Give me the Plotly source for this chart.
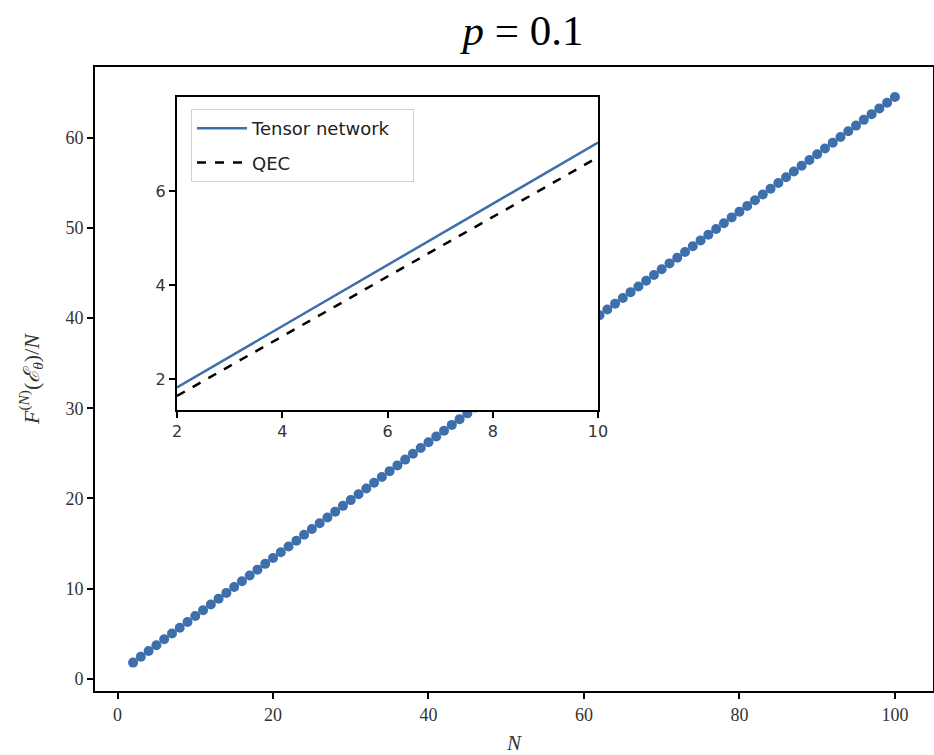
import plotly.graph_objects as go

# Main series: N and F^(N)(E_theta)/N (tensor network)
N_main = list(range(2, 101))
F_main = [1.80, 2.45, 3.09, 3.73, 4.38, 5.02, 5.67, 6.31, 6.96, 7.60,
          8.24, 8.89, 9.53, 10.18, 10.82, 11.46, 12.11, 12.75, 13.39, 14.04,
          14.68, 15.32, 15.97, 16.61, 17.25, 17.89, 18.54, 19.18, 19.82, 20.46,
          21.11, 21.75, 22.39, 23.03, 23.67, 24.31, 24.96, 25.60, 26.24, 26.88,
          27.52, 28.16, 28.80, 29.44, 30.08, 30.72, 31.36, 32.00, 32.64, 33.29,
          33.93, 34.57, 35.20, 35.84, 36.48, 37.12, 37.76, 38.40, 39.04, 39.68,
          40.32, 40.96, 41.60, 42.24, 42.88, 43.51, 44.15, 44.79, 45.43, 46.07,
          46.71, 47.34, 47.98, 48.62, 49.26, 49.89, 50.53, 51.17, 51.81, 52.44,
          53.08, 53.72, 54.35, 54.99, 55.63, 56.26, 56.90, 57.54, 58.17, 58.81,
          59.45, 60.08, 60.72, 61.35, 61.99, 62.62, 63.26, 63.89, 64.53]

# Inset series
N_inset = [2, 3, 4, 5, 6, 7, 8, 9, 10]
TN_inset = [1.82, 2.47, 3.12, 3.77, 4.43, 5.08, 5.73, 6.38, 7.03]
QEC_inset = [1.64, 2.27, 2.91, 3.54, 4.18, 4.81, 5.45, 6.08, 6.72]

main_ticks = [0, 20, 40, 60, 80, 100]
main_yticks = [0, 10, 20, 30, 40, 50, 60]
inset_xticks = [2, 4, 6, 8, 10]
inset_yticks = [2, 4, 6]

BLUE = "#3d6fac"
SERIF = "Liberation Serif"
SANS = "DejaVu Sans"

fig = go.Figure()

fig.add_trace(go.Scatter(
    x=N_main, y=F_main, mode="markers",
    marker=dict(color=BLUE, size=10, line=dict(width=0)),
    showlegend=False, xaxis="x", yaxis="y"))

fig.add_trace(go.Scatter(
    x=N_inset, y=TN_inset, mode="lines", name="Tensor network&nbsp;&nbsp;&nbsp;",
    legendgroup="a",
    line=dict(color=BLUE, width=2.5), xaxis="x2", yaxis="y2"))
fig.add_trace(go.Scatter(
    x=N_inset, y=QEC_inset, mode="lines", name="QEC",
    legendgroup="b",
    line=dict(color="black", width=2.5, dash="dash"), xaxis="x2", yaxis="y2"))

W, H = 934, 755
ml, mr, mt, mb = 95, 1, 67, 64
pw, ph = W - ml - mr, H - mt - mb

def dx(px):
    return (px - ml) / pw

def dy(py):
    return 1 - (py - mt) / ph

axis_common = dict(showline=True, linecolor="black", linewidth=2, mirror=True,
                   ticks="outside", ticklen=6, tickwidth=1.5, tickcolor="black",
                   showgrid=False, zeroline=False, automargin=False)

fig.update_layout(
    width=W, height=H,
    margin=dict(l=ml, r=mr, t=mt, b=mb, autoexpand=False),
    paper_bgcolor="white", plot_bgcolor="white",
    title=dict(text="<i>p</i> = 0.1", x=523 / W, xanchor="center",
               y=1 - 30 / H, yanchor="middle",
               font=dict(family=SERIF, size=43, color="black")),
    xaxis=dict(domain=[0, 1], range=[-2.9, 104.9], tickvals=main_ticks,
               tickfont=dict(family=SERIF, size=18, color="#333"),
               title=dict(text="<i>N</i>", font=dict(family=SERIF, size=21, color="#333"),
                          standoff=12),
               **axis_common),
    yaxis=dict(domain=[0, 1], range=[-1.35, 67.85], tickvals=main_yticks,
               tickfont=dict(family=SERIF, size=18, color="#333"),
               title=dict(text="<i>F</i><sup>(<i>N</i>)</sup>(<i>ℰ</i><sub><i>θ</i></sub>)/<i>N</i>",
                          font=dict(family=SERIF, size=22, color="#333"), standoff=20),
               **axis_common),
    xaxis2=dict(domain=[dx(177), dx(598)], range=[2, 10], tickvals=inset_xticks,
                anchor="y2", tickfont=dict(family=SANS, size=16, color="#333"),
                **axis_common),
    yaxis2=dict(domain=[dy(410), dy(97)], range=[1.34, 8.0], tickvals=inset_yticks,
                anchor="x2", tickfont=dict(family=SANS, size=16, color="#333"),
                **axis_common),
    legend=dict(x=dx(191), y=dy(109), xanchor="left", yanchor="top",
                bgcolor="rgba(255,255,255,0.9)", bordercolor="#d0d0d0", borderwidth=1,
                font=dict(family=SANS, size=18, color="#222"),
                tracegroupgap=8, itemwidth=50),
    showlegend=True,
)

fig.write_html("out.html")
